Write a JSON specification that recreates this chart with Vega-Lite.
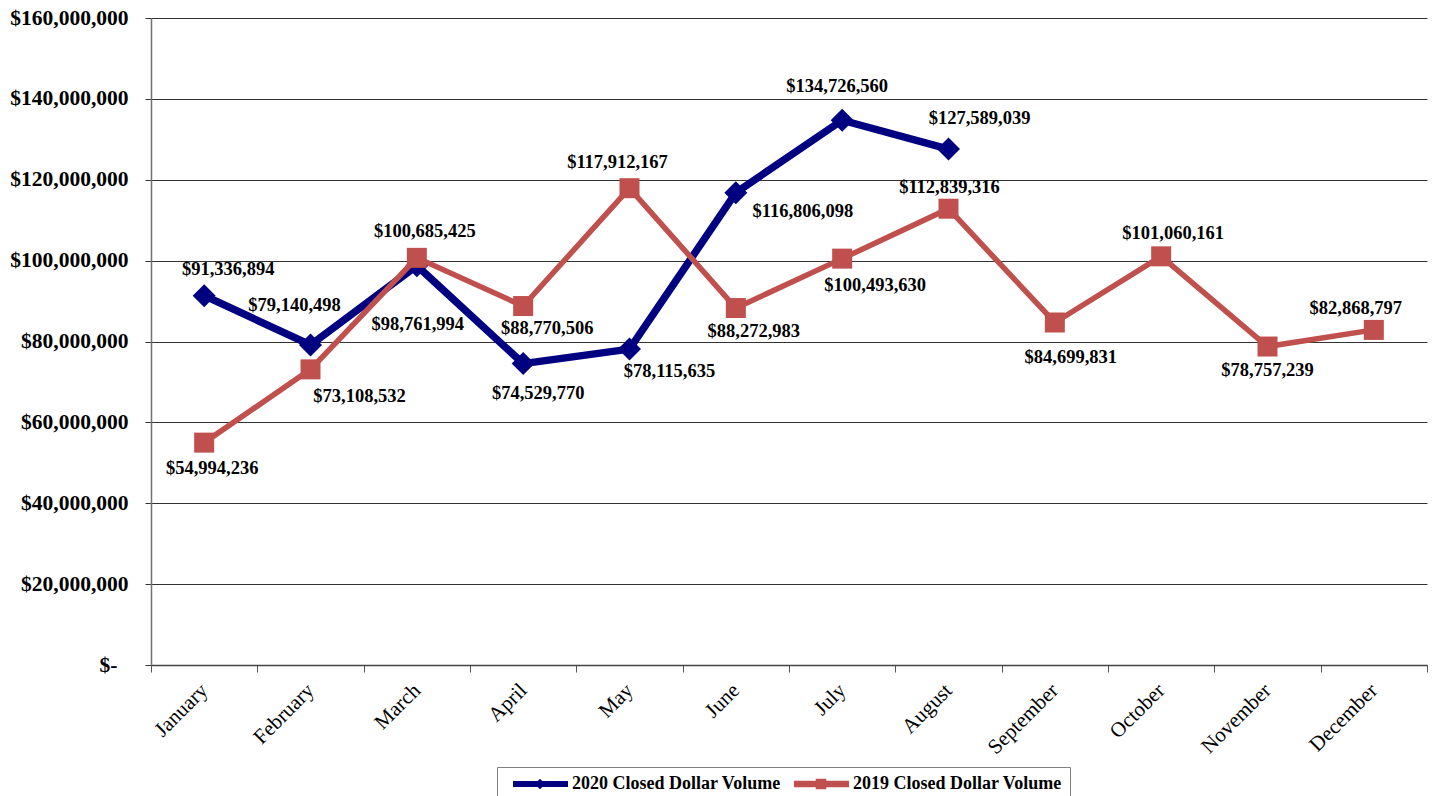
{
  "$schema": "https://vega.github.io/schema/vega-lite/v6.json",
  "width": 1276,
  "height": 647,
  "autosize": {"type": "none"},
  "padding": {"left": 151, "top": 18, "right": 8, "bottom": 131},
  "background": "white",
  "config": {
    "view": {"stroke": null},
    "text": {"font": "Liberation Serif", "fontSize": 18.5, "fontWeight": "bold", "color": "black", "align": "center", "baseline": "middle"}
  },
  "data": {
    "values": [
      {"month": "January", "series": "2020 Closed Dollar Volume", "value": 91336894},
      {"month": "February", "series": "2020 Closed Dollar Volume", "value": 79140498},
      {"month": "March", "series": "2020 Closed Dollar Volume", "value": 98761994},
      {"month": "April", "series": "2020 Closed Dollar Volume", "value": 74529770},
      {"month": "May", "series": "2020 Closed Dollar Volume", "value": 78115635},
      {"month": "June", "series": "2020 Closed Dollar Volume", "value": 116806098},
      {"month": "July", "series": "2020 Closed Dollar Volume", "value": 134726560},
      {"month": "August", "series": "2020 Closed Dollar Volume", "value": 127589039},
      {"month": "January", "series": "2019 Closed Dollar Volume", "value": 54994236},
      {"month": "February", "series": "2019 Closed Dollar Volume", "value": 73108532},
      {"month": "March", "series": "2019 Closed Dollar Volume", "value": 100685425},
      {"month": "April", "series": "2019 Closed Dollar Volume", "value": 88770506},
      {"month": "May", "series": "2019 Closed Dollar Volume", "value": 117912167},
      {"month": "June", "series": "2019 Closed Dollar Volume", "value": 88272983},
      {"month": "July", "series": "2019 Closed Dollar Volume", "value": 100493630},
      {"month": "August", "series": "2019 Closed Dollar Volume", "value": 112839316},
      {"month": "September", "series": "2019 Closed Dollar Volume", "value": 84699831},
      {"month": "October", "series": "2019 Closed Dollar Volume", "value": 101060161},
      {"month": "November", "series": "2019 Closed Dollar Volume", "value": 78757239},
      {"month": "December", "series": "2019 Closed Dollar Volume", "value": 82868797}
    ]
  },
  "encoding": {
    "x": {
      "field": "month", "type": "ordinal", "title": null,
      "scale": {"type": "band", "paddingInner": 0, "paddingOuter": 0,
        "domain": ["January","February","March","April","May","June","July","August","September","October","November","December"]},
      "axis": {"labelAngle": -45, "labelAlign": "right", "labelBaseline": "middle", "labelPadding": 15,
        "tickBand": "extent", "tickSize": 7, "tickColor": "#555", "domainColor": "#444", "domainWidth": 1.5,
        "labelFont": "Liberation Serif", "labelFontSize": 21, "labelColor": "black", "grid": false}
    },
    "y": {
      "field": "value", "type": "quantitative", "title": null,
      "scale": {"domain": [0, 160000000], "nice": false},
      "axis": {"values": [0,20000000,40000000,60000000,80000000,100000000,120000000,140000000,160000000],
        "labelExpr": "datum.value == 0 ? '$-' : '$' + format(datum.value, ',')",
        "labelFont": "Liberation Serif", "labelFontSize": 21.5, "labelFontWeight": "bold", "labelColor": "black",
        "labelPadding": {"condition": {"test": "datum.value == 0", "value": 28}, "value": 17},
        "tickSize": 6, "tickColor": "#333", "domainColor": "#707070", "domainWidth": 1.5,
        "grid": true, "gridColor": "#333", "gridWidth": 1}
    }
  },
  "layer": [
    {
      "transform": [{"filter": "datum.series == '2020 Closed Dollar Volume'"}],
      "mark": {"type": "line", "strokeWidth": 7.5},
      "encoding": {
        "color": {"field": "series", "type": "nominal",
          "scale": {"domain": ["2020 Closed Dollar Volume", "2019 Closed Dollar Volume"], "range": ["#000080", "#C0504D"]},
          "legend": {"orient": "none", "legendX": 346, "legendY": 749, "direction": "horizontal", "columns": 2,
            "title": null, "padding": 8, "strokeColor": "#808080", "fillColor": "white",
            "labelFont": "Liberation Serif", "labelFontSize": 18, "labelFontWeight": "bold", "labelColor": "black",
            "labelOffset": 49, "columnPadding": 5, "symbolSize": 100, "symbolStrokeWidth": 0, "labelLimit": 400,
            "encode": {"symbols": {"update": {
              "shape": {"signal": "datum.value == '2020 Closed Dollar Volume' ? 'M-0.2,-0.6L10.8,-0.6L10.8,0.6L-0.2,0.6ZM5.2,-1.05L6.25,0L5.2,1.05L4.15,0Z' : 'M-0.2,-0.65L10.8,-0.65L10.8,0.65L-0.2,0.65ZM4.15,-1.05L6.25,-1.05L6.25,1.05L4.15,1.05Z'"},
              "fill": {"signal": "datum.value == '2020 Closed Dollar Volume' ? '#000080' : '#C0504D'"},
              "fillOpacity": {"value": 1},
              "strokeWidth": {"value": 0},
              "size": {"value": 100}
            }}}
          }
        }
      }
    },
    {
      "transform": [{"filter": "datum.series == '2020 Closed Dollar Volume'"}],
      "mark": {"type": "point", "shape": "diamond", "size": 529, "filled": true, "opacity": 1},
      "encoding": {"color": {"field": "series", "type": "nominal"}}
    },
    {
      "transform": [{"filter": "datum.series == '2019 Closed Dollar Volume'"}],
      "mark": {"type": "line", "strokeWidth": 5.5},
      "encoding": {"color": {"field": "series", "type": "nominal"}}
    },
    {
      "transform": [{"filter": "datum.series == '2019 Closed Dollar Volume'"}],
      "mark": {"type": "point", "shape": "square", "size": 400, "filled": true, "opacity": 1},
      "encoding": {"color": {"field": "series", "type": "nominal"}}
    },
    {"transform": [{"filter": "datum.series == '2020 Closed Dollar Volume' && datum.month == 'January'"}], "mark": {"type": "text", "dx": 24, "dy": -27}, "encoding": {"text": {"field": "value", "format": "$,.0f"}}},
    {"transform": [{"filter": "datum.series == '2020 Closed Dollar Volume' && datum.month == 'February'"}], "mark": {"type": "text", "dx": -16, "dy": -40}, "encoding": {"text": {"field": "value", "format": "$,.0f"}}},
    {"transform": [{"filter": "datum.series == '2020 Closed Dollar Volume' && datum.month == 'March'"}], "mark": {"type": "text", "dx": 1, "dy": 58}, "encoding": {"text": {"field": "value", "format": "$,.0f"}}},
    {"transform": [{"filter": "datum.series == '2020 Closed Dollar Volume' && datum.month == 'April'"}], "mark": {"type": "text", "dx": 15, "dy": 29}, "encoding": {"text": {"field": "value", "format": "$,.0f"}}},
    {"transform": [{"filter": "datum.series == '2020 Closed Dollar Volume' && datum.month == 'May'"}], "mark": {"type": "text", "dx": 40, "dy": 22}, "encoding": {"text": {"field": "value", "format": "$,.0f"}}},
    {"transform": [{"filter": "datum.series == '2020 Closed Dollar Volume' && datum.month == 'June'"}], "mark": {"type": "text", "dx": 67, "dy": 18}, "encoding": {"text": {"field": "value", "format": "$,.0f"}}},
    {"transform": [{"filter": "datum.series == '2020 Closed Dollar Volume' && datum.month == 'July'"}], "mark": {"type": "text", "dx": -5, "dy": -34}, "encoding": {"text": {"field": "value", "format": "$,.0f"}}},
    {"transform": [{"filter": "datum.series == '2020 Closed Dollar Volume' && datum.month == 'August'"}], "mark": {"type": "text", "dx": 31, "dy": -31}, "encoding": {"text": {"field": "value", "format": "$,.0f"}}},
    {"transform": [{"filter": "datum.series == '2019 Closed Dollar Volume' && datum.month == 'January'"}], "mark": {"type": "text", "dx": 8, "dy": 25}, "encoding": {"text": {"field": "value", "format": "$,.0f"}}},
    {"transform": [{"filter": "datum.series == '2019 Closed Dollar Volume' && datum.month == 'February'"}], "mark": {"type": "text", "dx": 49, "dy": 27}, "encoding": {"text": {"field": "value", "format": "$,.0f"}}},
    {"transform": [{"filter": "datum.series == '2019 Closed Dollar Volume' && datum.month == 'March'"}], "mark": {"type": "text", "dx": 8, "dy": -27}, "encoding": {"text": {"field": "value", "format": "$,.0f"}}},
    {"transform": [{"filter": "datum.series == '2019 Closed Dollar Volume' && datum.month == 'April'"}], "mark": {"type": "text", "dx": 24, "dy": 22}, "encoding": {"text": {"field": "value", "format": "$,.0f"}}},
    {"transform": [{"filter": "datum.series == '2019 Closed Dollar Volume' && datum.month == 'May'"}], "mark": {"type": "text", "dx": -12, "dy": -26}, "encoding": {"text": {"field": "value", "format": "$,.0f"}}},
    {"transform": [{"filter": "datum.series == '2019 Closed Dollar Volume' && datum.month == 'June'"}], "mark": {"type": "text", "dx": 18, "dy": 23}, "encoding": {"text": {"field": "value", "format": "$,.0f"}}},
    {"transform": [{"filter": "datum.series == '2019 Closed Dollar Volume' && datum.month == 'July'"}], "mark": {"type": "text", "dx": 33, "dy": 26}, "encoding": {"text": {"field": "value", "format": "$,.0f"}}},
    {"transform": [{"filter": "datum.series == '2019 Closed Dollar Volume' && datum.month == 'August'"}], "mark": {"type": "text", "dx": 1, "dy": -22}, "encoding": {"text": {"field": "value", "format": "$,.0f"}}},
    {"transform": [{"filter": "datum.series == '2019 Closed Dollar Volume' && datum.month == 'September'"}], "mark": {"type": "text", "dx": 16, "dy": 35}, "encoding": {"text": {"field": "value", "format": "$,.0f"}}},
    {"transform": [{"filter": "datum.series == '2019 Closed Dollar Volume' && datum.month == 'October'"}], "mark": {"type": "text", "dx": 12, "dy": -23}, "encoding": {"text": {"field": "value", "format": "$,.0f"}}},
    {"transform": [{"filter": "datum.series == '2019 Closed Dollar Volume' && datum.month == 'November'"}], "mark": {"type": "text", "dx": 0, "dy": 23}, "encoding": {"text": {"field": "value", "format": "$,.0f"}}},
    {"transform": [{"filter": "datum.series == '2019 Closed Dollar Volume' && datum.month == 'December'"}], "mark": {"type": "text", "dx": -18, "dy": -22}, "encoding": {"text": {"field": "value", "format": "$,.0f"}}}
  ]
}
